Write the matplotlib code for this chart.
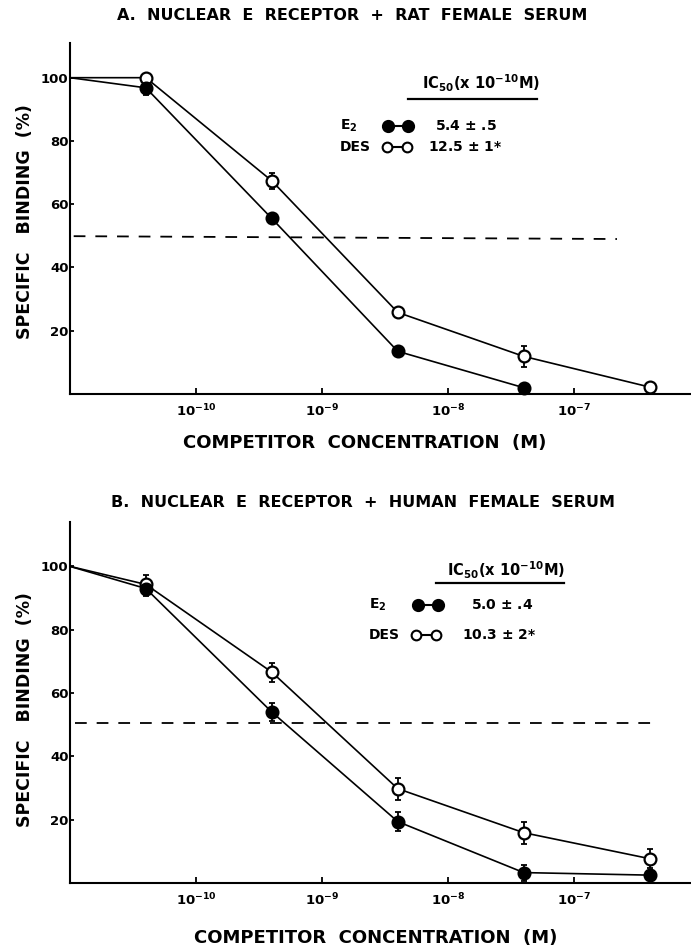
import matplotlib
matplotlib.use("Agg")
import matplotlib.pyplot as plt
import numpy as np

plt.rcParams['font.family'] = ['DejaVu Sans']
plt.rcParams['font.weight'] = 'bold'
plt.rcParams['mathtext.default'] = 'bf'
plt.rcParams['mathtext.fontset'] = 'dejavusans'

# competitor concentration (M); first point sits on the y axis (no competitor)
conc = [1e-11, 4e-11, 4e-10, 4e-9, 4e-8, 4e-7]

# panel A: rat female serum
a_e2 = [100, 96.8, 55.5, 13.5, 2.0]
a_e2_err = [0, 2.2, 1.2, 1.0, 1.0]
a_des = [100, 100, 67.4, 25.8, 11.9, 2.2]
a_des_err = [0, 0, 2.5, 1.5, 3.2, 0]
a_half_x = [1.07e-11, 2.2e-7]
a_half_y = [49.9, 49.0]

# panel B: human female serum
b_e2 = [100, 93.0, 54.0, 19.4, 3.3, 2.5]
b_e2_err = [0, 2.5, 2.8, 3.0, 2.5, 0]
b_des = [100, 94.3, 66.6, 29.8, 15.9, 7.7]
b_des_err = [0, 3.0, 3.0, 3.5, 3.5, 3.0]
b_half_x = [1.1e-11, 4.7e-7]
b_half_y = [50.4, 50.4]

xticks = [1e-10, 1e-9, 1e-8, 1e-7]
xtick_labels = [r'$10^{-10}$', r'$10^{-9}$', r'$10^{-8}$', r'$10^{-7}$']
yticks = [20, 40, 60, 80, 100]

titles = ["A.  NUCLEAR  E  RECEPTOR  +  RAT  FEMALE  SERUM",
          "B.  NUCLEAR  E  RECEPTOR  +  HUMAN  FEMALE  SERUM"]
ic50_head = r'IC$_{50}$(x 10$^{-10}$M)'
a_vals = ["5.4 $\\pm$ .5", "12.5 $\\pm$ 1*"]
b_vals = ["5.0 $\\pm$ .4", "10.3 $\\pm$ 2*"]

fig = plt.figure(figsize=(6.91, 9.49), dpi=100)

axA = fig.add_axes([0.1013, 0.5848, 0.8987, 0.3700])
axB = fig.add_axes([0.1013, 0.0695, 0.8987, 0.3804])


def draw_curve(ax, y, err, filled):
    x = conc[:len(y)]
    ax.plot(x, y, "-", color="black", lw=1.2, clip_on=False, zorder=2)
    ax.errorbar(x[1:], y[1:], yerr=err[1:], fmt="none", ecolor="black",
                elinewidth=1.3, capsize=2.5, capthick=1.3, clip_on=False, zorder=3)
    ax.plot(x[1:], y[1:], "o", ms=8.5, mec="black", mew=1.6,
            mfc="black" if filled else "white", clip_on=False, zorder=4)


def style_axis(ax, top):
    ax.set_xscale("log")
    ax.set_xlim(1e-11, 10 ** -6.07)
    ax.set_ylim(0, top)
    for s in ["top", "right"]:
        ax.spines[s].set_visible(False)
    ax.spines["left"].set_linewidth(1.5)
    ax.spines["bottom"].set_linewidth(1.5)
    ax.set_xticks(xticks)
    ax.set_xticklabels(xtick_labels, fontsize=9.5)
    ax.xaxis.set_minor_locator(matplotlib.ticker.NullLocator())
    ax.set_yticks(yticks)
    ax.set_yticklabels([str(v) for v in yticks], fontsize=9.5, fontweight="bold")
    ax.tick_params(axis="x", direction="in", length=4, width=1.3, pad=6)
    ax.tick_params(axis="y", direction="in", length=3, width=1.3, pad=1)


def draw_key(ax, head_xy, line_x, line_y, row_y, lab_x, mk_x, val_x, vals):
    ax.text(head_xy[0], head_xy[1], ic50_head, transform=ax.transAxes,
            fontsize=10.5, va="center", ha="left")
    ax.plot(line_x, [line_y, line_y], "-", color="black", lw=1.6,
            transform=ax.transAxes, clip_on=False)
    ax.text(lab_x, row_y[0], r'E$_2$', transform=ax.transAxes,
            fontsize=10, va="center", ha="left")
    ax.text(lab_x, row_y[1], "DES", transform=ax.transAxes,
            fontsize=10, va="center", ha="left")
    ax.plot(mk_x[0], [row_y[0]] * 2, "-o", color="black", ms=8, mec="black",
            mfc="black", mew=1.5, lw=1.5, transform=ax.transAxes, clip_on=False)
    ax.plot(mk_x[1], [row_y[1]] * 2, "-o", color="black", ms=7, mec="black",
            mfc="white", mew=1.5, lw=1.5, transform=ax.transAxes, clip_on=False)
    ax.text(val_x[0], row_y[0], vals[0], transform=ax.transAxes,
            fontsize=10, va="center", ha="left")
    ax.text(val_x[1], row_y[1], vals[1], transform=ax.transAxes,
            fontsize=10, va="center", ha="left")


# panel A
draw_curve(axA, a_des, a_des_err, False)
draw_curve(axA, a_e2, a_e2_err, True)
axA.plot(a_half_x, a_half_y, color="black", lw=1.3, dashes=(6.5, 5.5))
style_axis(axA, 111)
draw_key(axA, (0.567, 0.886), [0.544, 0.752], 0.840, [0.764, 0.704], 0.435,
         [[0.512, 0.544], [0.510, 0.543]], [0.588, 0.576], a_vals)

# panel B
draw_curve(axB, b_des, b_des_err, False)
draw_curve(axB, b_e2, b_e2_err, True)
axB.plot(b_half_x, b_half_y, color="black", lw=1.3, dashes=(6.5, 5.5))
style_axis(axB, 114)
draw_key(axB, (0.607, 0.867), [0.589, 0.795], 0.831, [0.770, 0.687], 0.481,
         [[0.560, 0.593], [0.557, 0.589]], [0.646, 0.631], b_vals)

# titles and axis labels
fig.text(0.509, 0.984, titles[0], ha="center", va="center", fontsize=11.5)
fig.text(0.525, 0.470, titles[1], ha="center", va="center", fontsize=11.5)
fig.text(0.528, 0.533, "COMPETITOR  CONCENTRATION  (M)", ha="center",
         va="center", fontsize=13)
fig.text(0.543, 0.012, "COMPETITOR  CONCENTRATION  (M)", ha="center",
         va="center", fontsize=13)
fig.text(0.036, 0.767, "SPECIFIC   BINDING  (%)", ha="center", va="center",
         rotation=90, fontsize=12.5)
fig.text(0.036, 0.252, "SPECIFIC   BINDING  (%)", ha="center", va="center",
         rotation=90, fontsize=12.5)

fig.savefig("out.png", dpi=100)
